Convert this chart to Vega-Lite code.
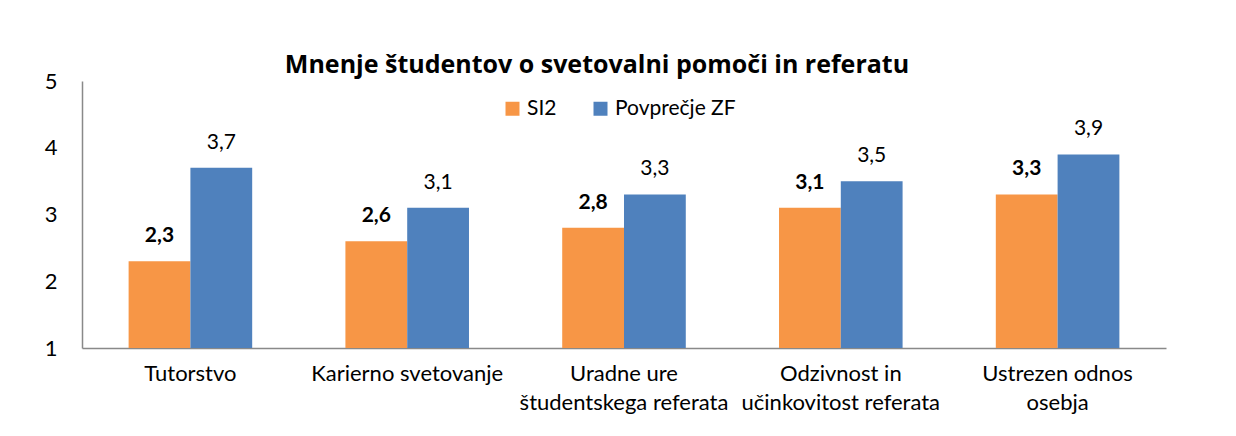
{
  "$schema": "https://vega.github.io/schema/vega-lite/v6.json",
  "width": 1084,
  "height": 267,
  "autosize": {"type": "none"},
  "padding": {"left": 82, "top": 81, "right": 70, "bottom": 88},
  "background": "white",
  "config": {
    "font": "Lato",
    "view": {"stroke": null},
    "locale": {"number": {"decimal": ",", "thousands": ".", "grouping": [3], "currency": ["", " €"]}}
  },
  "title": {
    "text": "Mnenje študentov o svetovalni pomoči in referatu",
    "font": "Open Sans",
    "fontSize": 25,
    "fontWeight": "bold",
    "color": "black",
    "anchor": "middle",
    "dx": -27,
    "offset": -8
  },
  "data": {
    "values": [
      {"cat": "Tutorstvo", "series": "SI2", "value": 2.3},
      {"cat": "Tutorstvo", "series": "Povprečje ZF", "value": 3.7},
      {"cat": "Karierno svetovanje", "series": "SI2", "value": 2.6},
      {"cat": "Karierno svetovanje", "series": "Povprečje ZF", "value": 3.1},
      {"cat": "Uradne ure|študentskega referata", "series": "SI2", "value": 2.8},
      {"cat": "Uradne ure|študentskega referata", "series": "Povprečje ZF", "value": 3.3},
      {"cat": "Odzivnost in|učinkovitost referata", "series": "SI2", "value": 3.1},
      {"cat": "Odzivnost in|učinkovitost referata", "series": "Povprečje ZF", "value": 3.5},
      {"cat": "Ustrezen odnos|osebja", "series": "SI2", "value": 3.3},
      {"cat": "Ustrezen odnos|osebja", "series": "Povprečje ZF", "value": 3.9}
    ]
  },
  "encoding": {
    "x": {
      "field": "cat",
      "type": "nominal",
      "sort": null,
      "scale": {"paddingInner": 0.43, "paddingOuter": 0.215},
      "axis": {
        "title": null,
        "labelAngle": 0,
        "labelExpr": "split(datum.label, '|')",
        "labelFontSize": 22,
        "labelColor": "black",
        "labelPadding": 15,
        "labelLineHeight": 29,
        "labelLimit": 0,
        "ticks": false,
        "domainColor": "#898989",
        "domainWidth": 1.5
      }
    },
    "xOffset": {"field": "series", "type": "nominal", "sort": ["SI2", "Povprečje ZF"]},
    "y": {
      "field": "value",
      "type": "quantitative",
      "scale": {"domain": [1, 5], "nice": false, "zero": false},
      "axis": {
        "title": null,
        "values": [1, 2, 3, 4, 5],
        "format": "d",
        "grid": false,
        "ticks": false,
        "labelFontSize": 22,
        "labelColor": "black",
        "labelPadding": 25,
        "domainColor": "#898989",
        "domainWidth": 1.5
      }
    }
  },
  "layer": [
    {
      "mark": {"type": "bar"},
      "encoding": {
        "y2": {"datum": 1},
        "color": {
          "field": "series",
          "type": "nominal",
          "sort": ["SI2", "Povprečje ZF"],
          "scale": {"domain": ["SI2", "Povprečje ZF"], "range": ["#F79646", "#4F81BD"]},
          "legend": {
            "title": null,
            "orient": "none",
            "legendX": 420,
            "legendY": 17,
            "direction": "horizontal",
            "symbolType": "square",
            "symbolSize": 196,
            "symbolStrokeWidth": 0,
            "labelFontSize": 21,
            "labelColor": "black",
            "labelOffset": 4,
            "columnPadding": 33
          }
        }
      }
    },
    {
      "transform": [{"filter": "datum.series === 'SI2'"}],
      "mark": {"type": "text", "baseline": "alphabetic", "dy": -19, "fontSize": 21, "fontWeight": "bold", "color": "black"},
      "encoding": {
        "text": {"field": "value", "type": "quantitative", "format": ".1f"}
      }
    },
    {
      "transform": [{"filter": "datum.series === 'Povprečje ZF'"}],
      "mark": {"type": "text", "baseline": "alphabetic", "dy": -19, "fontSize": 21, "fontWeight": "normal", "color": "black"},
      "encoding": {
        "text": {"field": "value", "type": "quantitative", "format": ".1f"}
      }
    }
  ]
}
